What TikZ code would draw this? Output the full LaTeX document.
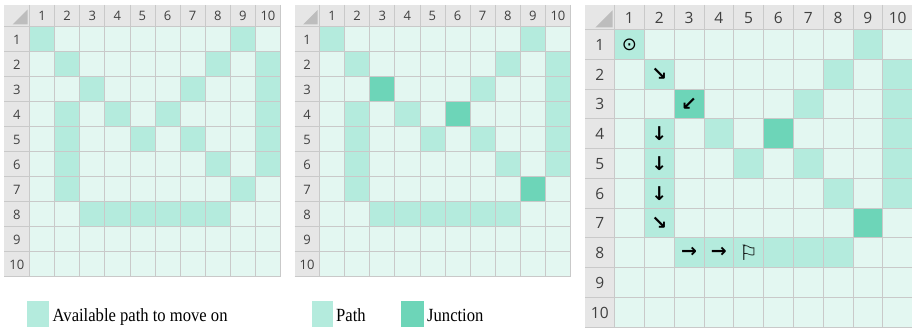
\documentclass[tikz,border=0pt]{standalone}
\usepackage{fontspec}
\setmainfont{Liberation Serif}
\newfontfamily\hdrfont{Open Sans}
\newfontfamily\symfont{DejaVu Sans}
\definecolor{cellbg}{HTML}{E3F7F1}
\definecolor{pathc}{HTML}{B4EBDD}
\definecolor{junc}{HTML}{6DD5B8}
\definecolor{hdrbg}{HTML}{E6E6E6}
\definecolor{gridc}{HTML}{C9C9C9}
\definecolor{hdrtxt}{HTML}{404040}
\definecolor{cornerc}{HTML}{BDBDBD}
\tikzset{
  gridline/.style={draw=gridc, line width=0.8pt},
  hdr/.style={inner sep=0pt, text=hdrtxt},
  sym/.style={inner sep=0pt, text=black, font={\symfont\bfseries\fontsize{19}{19}\selectfont}},
  legtext/.style={inner sep=0pt, anchor=base west, text=black, font={\fontsize{16.6}{18}\selectfont}},
  legbox/.style={fill=#1, draw=none}
}
\newcommand\pathcells{1/1,1/9,2/2,2/8,2/10,3/3,3/7,3/10,4/2,4/4,4/6,4/10,5/2,5/5,5/7,5/10,6/2,6/8,6/10,7/2,7/9,8/3,8/4,8/5,8/6,8/7,8/8}
% #1 name, #2 x0, #3 y0, #4 header col width, #5 header row height, #6 cell width, #7 cell height, #8 font size, #9 junction colour
\newcommand\mazegrid[9]{%
\begin{scope}[shift={(#2,#3)}]
  \fill[hdrbg] (0,0) rectangle ({#4+10*#6},#5);
  \fill[hdrbg] (0,#5) rectangle (#4,{#5+10*#7});
  \fill[cellbg] (#4,#5) rectangle ({#4+10*#6},{#5+10*#7});
  \foreach \rr/\cc in \pathcells
    \fill[pathc] ({#4+(\cc-1)*#6},{#5+(\rr-1)*#7}) rectangle ++(#6,#7);
  \foreach \rr/\cc in {3/3,4/6,7/9}
    \fill[#9] ({#4+(\cc-1)*#6},{#5+(\rr-1)*#7}) rectangle ++(#6,#7);
  \foreach \k in {0,...,10}{
    \draw[gridline] ({#4+\k*#6},0) -- ({#4+\k*#6},{#5+10*#7});
    \draw[gridline] (0,{#5+\k*#7}) -- ({#4+10*#6},{#5+\k*#7});
  }
  \fill[cornerc] ({#4-2},{#5-2}) -- ({#4-2},{#5-2-0.58*#4}) -- ({#4-2-0.58*#4},{#5-2}) -- cycle;
  \foreach \k in {1,...,10}{
    \node[hdr, font={\hdrfont\fontsize{#8}{#8}\selectfont}] (#1-col\k) at ({#4+(\k-0.5)*#6},{#5/2+0.5}) {\k};
    \node[hdr, font={\hdrfont\fontsize{#8}{#8}\selectfont}] (#1-row\k) at ({#4/2},{#5+(\k-0.5)*#7+0.5}) {\k};
  }
\end{scope}}
\begin{document}
\begin{tikzpicture}[x=1pt,y=-1pt]
\useasboundingbox (0,0) rectangle (912,329);
\fill[white] (0,0) rectangle (912,329);
\mazegrid{ga}{4}{5}{25.5}{21.5}{25.1}{25}{13}{pathc}
\mazegrid{gb}{294.5}{5}{25}{21.5}{25.1}{25}{13}{junc}
\mazegrid{gc}{585}{5}{29.5}{24.5}{29.8}{29.75}{15.5}{junc}
% route symbols in the third grid
\foreach \rr/\cc/\s/\nm in {2/2/↘/m1,3/3/↙/m2,4/2/↓/m3,5/2/↓/m4,6/2/↓/m5,7/2/↘/m6,8/3/→/m7,8/4/→/m8}
  \node[sym] (sym-\nm) at ({614.5+(\cc-0.5)*29.8},{29.5+(\rr-0.5)*29.75}) {\s};
\node[sym, font={\symfont\fontsize{18}{18}\selectfont}] (sym-start) at ({614.5+0.5*29.8},{29.5+0.5*29.75}) {⊙};
\node[sym, font={\symfont\fontsize{21}{21}\selectfont}] (sym-goal) at ({614.5+4.5*29.8},{29.5+7.5*29.75}) {⚐};
% legend
\fill[legbox=pathc] (27,301) rectangle (49,327);
\node[legtext] (leg-avail) at (52.5,321) {\scalebox{1}[1.12]{Available path to move on}};
\fill[legbox=pathc] (311.7,301) rectangle (333.3,327);
\node[legtext] (leg-path) at (336,321) {\scalebox{1}[1.12]{Path}};
\fill[legbox=junc] (401,301) rectangle (424,327);
\node[legtext] (leg-junc) at (427,321) {\scalebox{1}[1.12]{Junction}};
\end{tikzpicture}
\end{document}
